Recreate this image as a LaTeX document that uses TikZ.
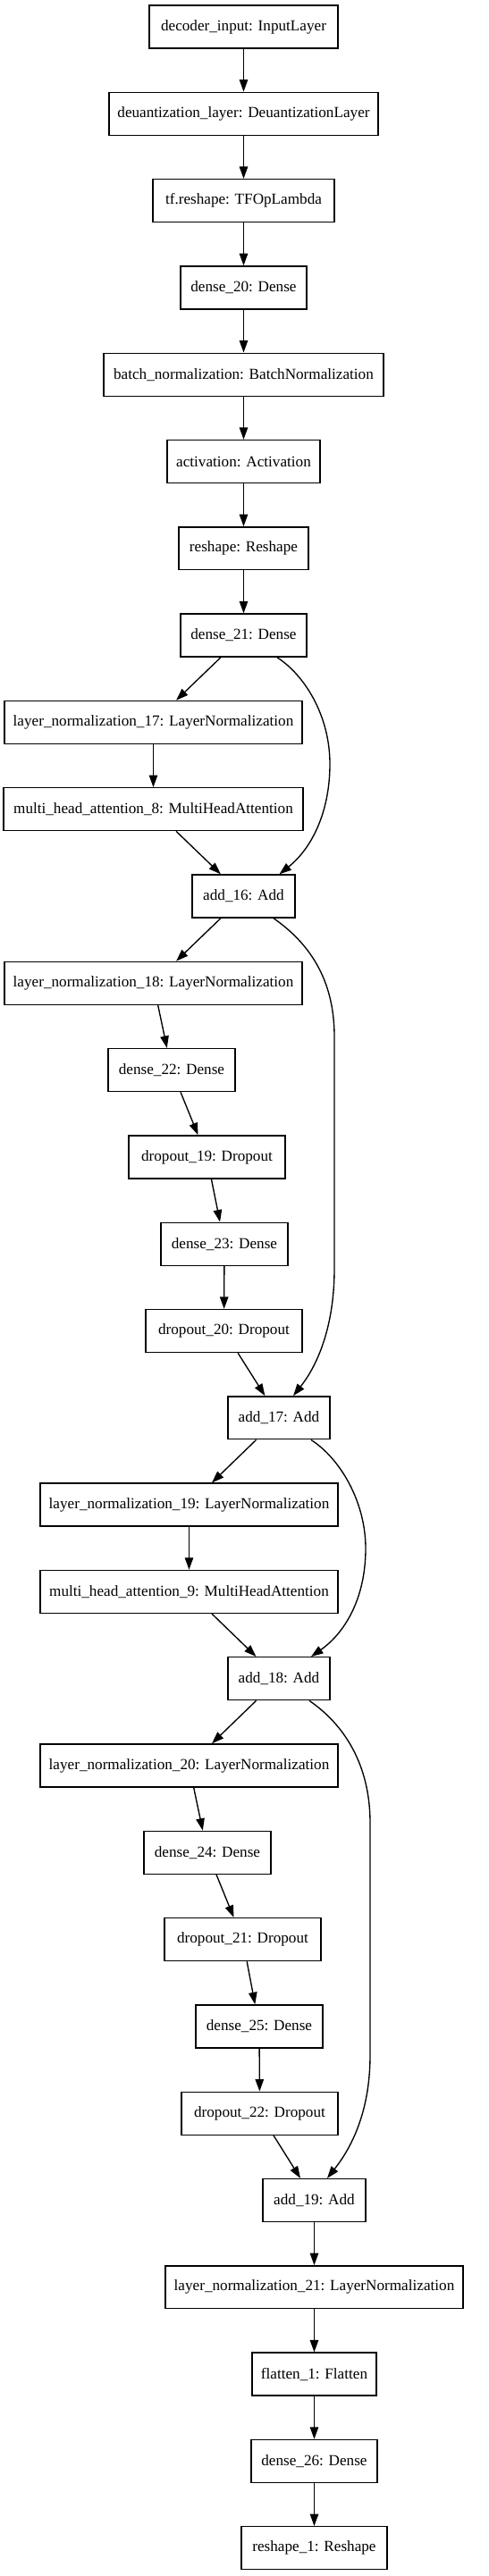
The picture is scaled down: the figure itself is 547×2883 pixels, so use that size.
\documentclass[tikz,border=0pt]{standalone}
\usepackage{fontspec}
\setmainfont{Liberation Serif}
\usetikzlibrary{arrows.meta,calc}

\tikzset{
  layer/.style={draw, rectangle, line width=1pt, minimum height=35.5pt, inner xsep=0pt, font=\fontsize{12.7}{15}\selectfont},
  boxw/.style={minimum width=#1*0.74pt},
  flow/.style={-{Triangle[length=10pt,width=7pt]}, line width=1pt},
}

\begin{document}
\begin{tikzpicture}[x=0.74pt,y=-0.74pt]
  \useasboundingbox (0,0) rectangle (547,2883);

  % main trunk
  \node[layer,boxw=211] (input) at (272.5,30) {decoder\_input: InputLayer};
  \node[layer,boxw=301] (deq) at (272.5,127.3) {deuantization\_layer: DeuantizationLayer};
  \node[layer,boxw=203] (tfreshape) at (272.5,224.6) {tf.reshape: TFOpLambda};
  \node[layer,boxw=141] (dense20) at (272.5,321.9) {dense\_20: Dense};
  \node[layer,boxw=313] (batchnorm) at (272.5,419.2) {batch\_normalization: BatchNormalization};
  \node[layer,boxw=171] (activation) at (272.5,516.5) {activation: Activation};
  \node[layer,boxw=145] (reshape) at (272.5,613.8) {reshape: Reshape};
  \node[layer,boxw=141] (dense21) at (272.5,711.1) {dense\_21: Dense};

  % block 1
  \node[layer,boxw=333] (ln17) at (171.5,808.4) {layer\_normalization\_17: LayerNormalization};
  \node[layer,boxw=335] (mha8) at (171.5,905.7) {multi\_head\_attention\_8: MultiHeadAttention};
  \node[layer,boxw=115] (add16) at (272.5,1003) {add\_16: Add};
  \node[layer,boxw=333] (ln18) at (171.5,1100.3) {layer\_normalization\_18: LayerNormalization};
  \node[layer,boxw=142] (dense22) at (192,1197.6) {dense\_22: Dense};
  \node[layer,boxw=175] (drop19) at (231.5,1294.9) {dropout\_19: Dropout};
  \node[layer,boxw=142] (dense23) at (251,1392.2) {dense\_23: Dense};
  \node[layer,boxw=175] (drop20) at (250.5,1489.5) {dropout\_20: Dropout};
  \node[layer,boxw=114] (add17) at (312,1586.8) {add\_17: Add};

  % block 2
  \node[layer,boxw=333] (ln19) at (211.5,1684.1) {layer\_normalization\_19: LayerNormalization};
  \node[layer,boxw=333] (mha9) at (211.5,1781.4) {multi\_head\_attention\_9: MultiHeadAttention};
  \node[layer,boxw=114] (add18) at (312,1878.7) {add\_18: Add};
  \node[layer,boxw=333] (ln20) at (211.5,1976) {layer\_normalization\_20: LayerNormalization};
  \node[layer,boxw=142] (dense24) at (232,2073.3) {dense\_24: Dense};
  \node[layer,boxw=175] (drop21) at (271.5,2170.6) {dropout\_21: Dropout};
  \node[layer,boxw=142] (dense25) at (290,2267.9) {dense\_25: Dense};
  \node[layer,boxw=175] (drop22) at (290.5,2365.2) {dropout\_22: Dropout};
  \node[layer,boxw=115] (add19) at (351.5,2462.5) {add\_19: Add};

  % head
  \node[layer,boxw=333] (ln21) at (351.5,2559.8) {layer\_normalization\_21: LayerNormalization};
  \node[layer,boxw=139] (flatten1) at (351.5,2657.1) {flatten\_1: Flatten};
  \node[layer,boxw=141] (dense26) at (351.5,2754.4) {dense\_26: Dense};
  \node[layer,boxw=163] (reshape1) at (351.5,2851.7) {reshape\_1: Reshape};

  \draw[flow] (input) -- (deq);
  \draw[flow] (deq) -- (tfreshape);
  \draw[flow] (tfreshape) -- (dense20);
  \draw[flow] (dense20) -- (batchnorm);
  \draw[flow] (batchnorm) -- (activation);
  \draw[flow] (activation) -- (reshape);
  \draw[flow] (reshape) -- (dense21);

  \draw[flow] (dense21) -- (ln17);
  \draw[flow] (ln17) -- (mha8);
  \draw[flow] (mha8) -- (add16);
  \draw[flow] ($(dense21.south)+(37.5,0)$) .. controls (340,755) and (369,800) .. (369,855)
    .. controls (369,910) and (348,950) .. ($(add16.north)+(40,0)$);

  \draw[flow] (add16) -- (ln18);
  \draw[flow] (ln18) -- (dense22);
  \draw[flow] (dense22) -- (drop19);
  \draw[flow] (drop19) -- (dense23);
  \draw[flow] (dense23) -- (drop20);
  \draw[flow] (drop20) -- (add17);
  \draw[flow] ($(add16.south)+(33.5,0)$) .. controls (345,1055) and (374,1095) .. (374,1160)
    -- (374,1420) .. controls (374,1490) and (352,1532) .. ($(add17.north)+(16,0)$);

  \draw[flow] (add17) -- (ln19);
  \draw[flow] (ln19) -- (mha9);
  \draw[flow] (mha9) -- (add18);
  \draw[flow] ($(add17.south)+(36,0)$) .. controls (380,1632) and (409,1680) .. (409,1733)
    .. controls (409,1790) and (385,1828) .. ($(add18.north)+(36,0)$);

  \draw[flow] (add18) -- (ln20);
  \draw[flow] (ln20) -- (dense24);
  \draw[flow] (dense24) -- (drop21);
  \draw[flow] (drop21) -- (dense25);
  \draw[flow] (dense25) -- (drop22);
  \draw[flow] (drop22) -- (add19);
  \draw[flow] ($(add18.south)+(34,0)$) .. controls (385,1930) and (414,1975) .. (414,2040)
    -- (414,2300) .. controls (414,2365) and (392,2405) .. ($(add19.north)+(14.5,0)$);

  \draw[flow] (add19) -- (ln21);
  \draw[flow] (ln21) -- (flatten1);
  \draw[flow] (flatten1) -- (dense26);
  \draw[flow] (dense26) -- (reshape1);
\end{tikzpicture}
\end{document}
